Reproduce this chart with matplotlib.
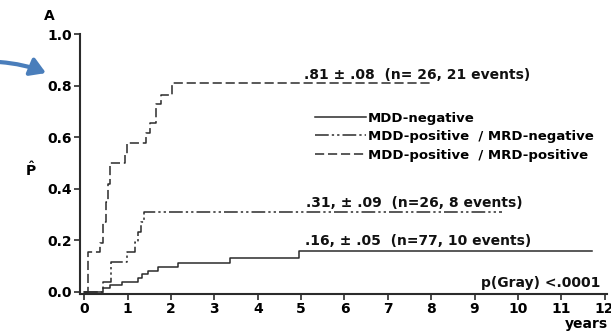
import matplotlib.pyplot as plt
from matplotlib.patches import FancyArrowPatch

plt.rcParams['font.family'] = ['DejaVu Sans']
plt.rcParams['font.weight'] = 'bold'

# cumulative incidence step curves (years, P)
neg_t = [0, 0.44, 0.6, 0.87, 1.24, 1.33, 1.47, 1.7, 2.16, 3.36, 4.94, 11.7]
neg_p = [0, 0.016, 0.027, 0.039, 0.054, 0.07, 0.08, 0.097, 0.113, 0.13, 0.16, 0.16]

mrdneg_t = [0, 0.44, 0.62, 0.99, 1.17, 1.24, 1.3, 1.38, 9.63]
mrdneg_p = [0, 0.04, 0.117, 0.155, 0.194, 0.233, 0.27, 0.31, 0.31]

mrdpos_t = [0, 0.09, 0.36, 0.44, 0.5, 0.54, 0.58, 0.94, 0.98, 1.42, 1.52, 1.66, 1.77, 2.02, 8.0]
mrdpos_p = [0, 0.155, 0.19, 0.27, 0.35, 0.42, 0.5, 0.53, 0.578, 0.617, 0.656, 0.73, 0.765, 0.81, 0.81]

labels = ['MDD-negative', 'MDD-positive  / MRD-negative', 'MDD-positive  / MRD-positive']
notes = ['.16, \u00b1 .05  (n=77, 10 events)',
         '.31, \u00b1 .09  (n=26, 8 events)',
         '.81 \u00b1 .08  (n= 26, 21 events)']

col = '#2b2b2b'
fig = plt.figure(figsize=(6.11, 3.32), dpi=100)
ax = fig.add_axes([0.131, 0.1145, 0.862, 0.783])

ax.step(neg_t, neg_p, where='post', color=col, lw=1.1, label=labels[0])
ax.step(mrdneg_t, mrdneg_p, where='post', color=col, lw=1.1,
        dashes=(9, 2, 1.5, 2, 1.5, 2), label=labels[1])
ax.step(mrdpos_t, mrdpos_p, where='post', color=col, lw=1.1,
        dashes=(6, 2.5), label=labels[2])

ax.text(5.1, 0.182, notes[0], fontsize=10, va='baseline', color='#111')
ax.text(5.12, 0.328, notes[1], fontsize=10, va='baseline', color='#111')
ax.text(5.06, 0.825, notes[2], fontsize=10, va='baseline', color='#111')
ax.text(11.9, 0.018, 'p(Gray) <.0001', fontsize=10, ha='right',
        va='baseline', color='#111')

leg = ax.legend(loc='upper left', bbox_to_anchor=(0.437, 0.722), frameon=False,
                fontsize=9.5, handlelength=3.8, handletextpad=0.15, labelspacing=0.42,
                borderaxespad=0)
for t in leg.get_texts():
    t.set_fontweight('bold')

ax.set_xlim(-0.1, 12.05)
ax.set_ylim(-0.008, 1.0)
ax.set_xticks(range(0, 13))
ax.set_yticks([0, 0.2, 0.4, 0.6, 0.8, 1.0])
ax.set_yticklabels(['0.0', '0.2', '0.4', '0.6', '0.8', '1.0'])
ax.tick_params(labelsize=10, length=4, width=1.2, color=col, pad=2)
for lab in ax.get_xticklabels() + ax.get_yticklabels():
    lab.set_fontweight('bold')
for s in ['top', 'right']:
    ax.spines[s].set_visible(False)
for s in ['left', 'bottom']:
    ax.spines[s].set_linewidth(1.5)
    ax.spines[s].set_color(col)

fig.text(0.051, 0.487, r'$\mathbf{\hat{P}}$', fontsize=10, ha='center', va='center')
fig.text(0.072, 0.952, 'A', fontsize=10, ha='left', va='center')
fig.text(0.995, 0.002, 'years', fontsize=10, ha='right', va='bottom')

arrow = FancyArrowPatch((0.0, 0.813), (0.0753, 0.780), transform=fig.transFigure,
                        connectionstyle='arc3,rad=-0.08',
                        arrowstyle='-|>,head_length=9,head_width=5.5',
                        mutation_scale=1, color='#4a7ebb', lw=3,
                        shrinkA=0, shrinkB=0)
fig.patches.append(arrow)

fig.savefig('out.png', dpi=100)
